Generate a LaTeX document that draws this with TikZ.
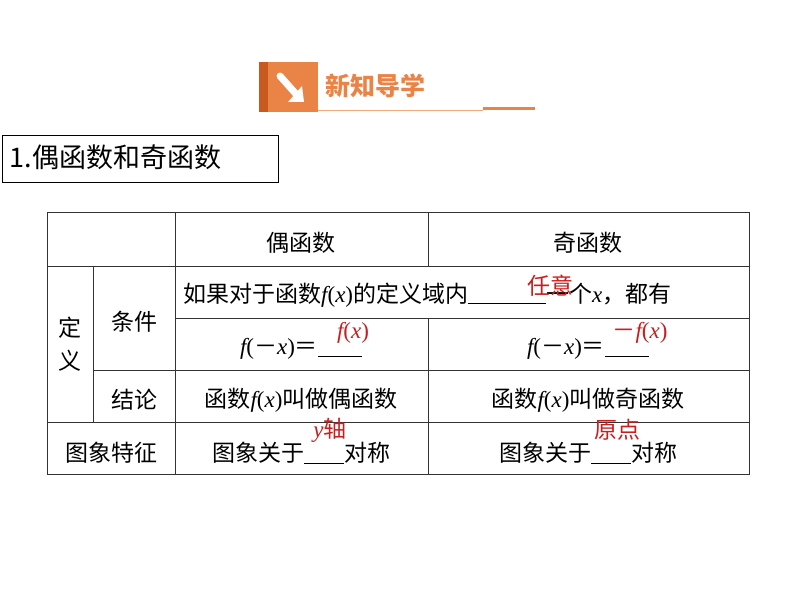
\documentclass[tikz,border=0pt]{standalone}
\usepackage{fontspec}
\setmainfont{Liberation Serif}
\newfontfamily\cjk{Noto Sans CJK SC}
\newcommand{\vi}[1]{{\rmfamily\itshape #1}}
\newcommand{\vu}[1]{{\rmfamily #1}}
\definecolor{org}{RGB}{233,131,70}
\definecolor{dorg}{RGB}{200,90,30}
\definecolor{ans}{RGB}{200,30,30}
\begin{document}
\begin{tikzpicture}[x=1pt,y=-1pt,
 cell/.style={font=\cjk\fontsize{23}{23}\selectfont,inner sep=0pt,anchor=center},
 ansr/.style={font=\cjk\fontsize{23}{23}\selectfont,text=ans,inner sep=0pt},
 grid/.style={draw=black!80,line width=0.8pt}]
\useasboundingbox (0,0) rectangle (794,596);
% header
\fill[dorg] (259,62) rectangle (268,112);
\fill[org] (268,62) rectangle (318,112);
\draw[white,line width=7pt,line cap=round] (280,76) -- (296,94);
\fill[white] (302,86) -- (304,102) -- (288,102) -- cycle;
\node[font=\cjk\bfseries\fontsize{25}{25}\selectfont,text=org,anchor=west] (hd) at (322,86) {新知导学};
\draw[org!70,line width=0.8pt] (318,110) -- (483,110);
\draw[org,line width=3pt] (483,109) -- (535,109);
% title box
\draw[black,line width=0.8pt] (2,135) rectangle (278,182);
\node[font=\cjk\fontsize{27}{27}\selectfont,anchor=west] (ttl) at (6,157) {1.偶函数和奇函数};
% table
\draw[grid] (47,212) rectangle (749,474);
\draw[grid] (47,266) -- (749,266);
\draw[grid] (175,318) -- (749,318);
\draw[grid] (93,370) -- (749,370);
\draw[grid] (47,422) -- (749,422);
\draw[grid] (93,266) -- (93,422);
\draw[grid] (175,212) -- (175,474);
\draw[grid] (428,212) -- (428,266);
\draw[grid] (428,318) -- (428,474);
\node[cell] (h1) at (301,243) {偶函数};
\node[cell] (h2) at (588,243) {奇函数};
\node[cell,align=center] (dy) at (70,344) {定\\[10pt]义};
\node[cell] (tj) at (134,322) {条件};
\node[cell] (jl) at (134,400) {结论};
\node[cell] (tx) at (111,453) {图象特征};
\node[cell,anchor=west] (r1) at (183,295) {如果对于函数\vi{f}\vu{(}\vi{x}\vu{)}的定义域内\underline{\hspace{78pt}}一个\vi{x}，都有};
\node[ansr] (a1) at (550,286) {任意};
\node[cell] (r2a) at (301,349) {\vi{f}\vu{(}－\vi{x}\vu{)}＝\underline{\hspace{44pt}}};
\node[ansr] (a2) at (353,333) {\vi{f}\vu{(}\vi{x}\vu{)}};
\node[cell] (r2b) at (588,349) {\vi{f}\vu{(}－\vi{x}\vu{)}＝\underline{\hspace{44pt}}};
\node[ansr] (a3) at (640,333) {－\vi{f}\vu{(}\vi{x}\vu{)}};
\node[cell] (r3a) at (301,400) {函数\vi{f}\vu{(}\vi{x}\vu{)}叫做偶函数};
\node[cell] (r3b) at (588,400) {函数\vi{f}\vu{(}\vi{x}\vu{)}叫做奇函数};
\node[cell] (r4a) at (301,453) {图象关于\underline{\hspace{40pt}}对称};
\node[ansr] (a4) at (330,430) {\vi{y}轴};
\node[cell] (r4b) at (588,453) {图象关于\underline{\hspace{40pt}}对称};
\node[ansr] (a5) at (617,430) {原点};
\end{tikzpicture}
\end{document}
